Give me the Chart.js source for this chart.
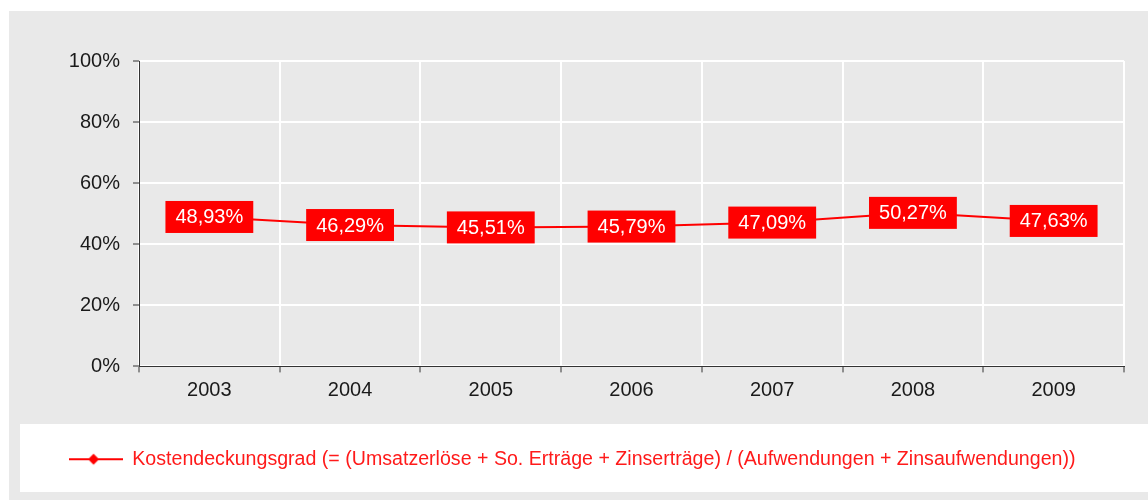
<!DOCTYPE html>
<html>
<head>
<meta charset="utf-8">
<script src="https://cdn.jsdelivr.net/npm/chart.js@4.4.0/dist/chart.umd.min.js"></script>
<style>
  html, body { margin: 0; padding: 0; background: #fff; }
  #wrap { width: 1148px; height: 500px; }
</style>
</head>
<body>
<div id="wrap"><canvas id="kostendeckung" width="1148" height="500"></canvas></div>
<script>
var jahre = ["2003", "2004", "2005", "2006", "2007", "2008", "2009"];
var kostendeckungsgrad = [48.93, 46.29, 45.51, 45.79, 47.09, 50.27, 47.63];
var yTicks = [0, 20, 40, 60, 80, 100];
var serienName = "Kostendeckungsgrad (= (Umsatzerlöse + So. Erträge + Zinserträge) / (Aufwendungen + Zinsaufwendungen))";

// legend symbol: line with diamond
var legendSymbol = document.createElement('canvas');
legendSymbol.width = 54;
legendSymbol.height = 14;
(function() {
    var c = legendSymbol.getContext('2d');
    c.strokeStyle = '#ff0000';
    c.lineWidth = 2;
    c.beginPath();
    c.moveTo(0, 7);
    c.lineTo(54, 7);
    c.stroke();
    c.fillStyle = '#ff0000';
    c.beginPath();
    c.moveTo(25, 1.5);
    c.lineTo(30.5, 7);
    c.lineTo(25, 12.5);
    c.lineTo(19.5, 7);
    c.closePath();
    c.fill();
})();

var hintergrund = {
    id: 'hintergrund',
    beforeDraw: function(chart) {
        var ctx = chart.ctx;
        ctx.save();
        ctx.fillStyle = '#ffffff';
        ctx.fillRect(0, 0, chart.width, chart.height);
        ctx.fillStyle = '#e9e9e9';
        ctx.fillRect(9, 11, chart.width - 9, chart.height - 11);
        ctx.fillStyle = '#ffffff';
        ctx.fillRect(20, 424, chart.width - 20, 68);
        ctx.restore();
    }
};

var wertLabels = {
    id: 'wertLabels',
    afterDatasetsDraw: function(chart) {
        var ctx = chart.ctx;
        var meta = chart.getDatasetMeta(0);
        ctx.save();
        ctx.font = '20px "Liberation Sans", Arial, sans-serif';
        ctx.textAlign = 'center';
        ctx.textBaseline = 'middle';
        meta.data.forEach(function(pt, i) {
            var txt = kostendeckungsgrad[i].toFixed(2).replace('.', ',') + '%';
            var w = ctx.measureText(txt).width + 20;
            var h = 32;
            ctx.fillStyle = '#ff0000';
            ctx.fillRect(pt.x - w / 2, pt.y - h / 2, w, h);
            ctx.fillStyle = '#ffffff';
            ctx.fillText(txt, pt.x, pt.y + 1);
        });
        ctx.restore();
    }
};

var ctx = document.getElementById("kostendeckung").getContext('2d');
var chart = new Chart(ctx, {
    type: 'line',
    data: {
        labels: jahre,
        datasets: [{
            label: serienName,
            data: kostendeckungsgrad,
            borderColor: '#ff0000',
            backgroundColor: '#ff0000',
            borderWidth: 2,
            pointRadius: 0,
            tension: 0
        }]
    },
    options: {
        responsive: false,
        animation: false,
        layout: {
            padding: { left: 20, right: 24, top: 61, bottom: 21 }
        },
        scales: {
            x: {
                offset: true,
                grid: {
                    offset: true,
                    color: '#ffffff',
                    lineWidth: 2,
                    tickColor: '#333333',
                    tickLength: 6,
                    tickWidth: 1
                },
                border: { color: '#333333', width: 1 },
                ticks: {
                    color: '#1a1a1a',
                    font: { family: '"Liberation Sans", Arial, sans-serif', size: 20 },
                    padding: 6
                },
                afterFit: function(scale) { scale.height = 73; }
            },
            y: {
                min: 0,
                max: 100,
                afterBuildTicks: function(scale) {
                    scale.ticks = yTicks.map(function(v) { return { value: v }; });
                },
                grid: {
                    color: '#ffffff',
                    lineWidth: 2,
                    tickColor: '#333333',
                    tickLength: 6,
                    tickWidth: 1
                },
                border: { color: '#333333', width: 1 },
                ticks: {
                    color: '#1a1a1a',
                    font: { family: '"Liberation Sans", Arial, sans-serif', size: 20 },
                    padding: 13,
                    callback: function(v) { return v + '%'; }
                },
                afterFit: function(scale) { scale.width = 119; }
            }
        },
        plugins: {
            legend: {
                display: true,
                position: 'bottom',
                labels: {
                    usePointStyle: true,
                    pointStyle: legendSymbol,
                    pointStyleWidth: 54,
                    color: '#ff1a1a',
                    padding: 10,
                    font: { family: '"Liberation Sans", Arial, sans-serif', size: 19.6 }
                }
            },
            tooltip: { enabled: false }
        }
    },
    plugins: [hintergrund, wertLabels]
});
</script>
</body>
</html>
